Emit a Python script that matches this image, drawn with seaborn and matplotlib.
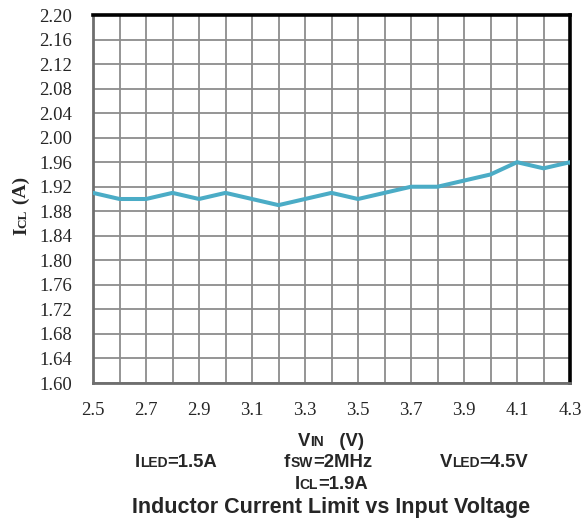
import matplotlib
matplotlib.use("Agg")
import matplotlib.pyplot as plt
import seaborn as sns
import pandas as pd

vin = [2.5, 2.6, 2.7, 2.8, 2.9, 3.0, 3.1, 3.2, 3.3, 3.4, 3.5, 3.6, 3.7, 3.8, 3.9, 4.0, 4.1, 4.2, 4.3, 4.4]
icl = [1.91, 1.90, 1.90, 1.91, 1.90, 1.91, 1.90, 1.89, 1.90, 1.91, 1.90, 1.91, 1.92, 1.92, 1.93, 1.94, 1.96, 1.95, 1.96, 1.90]
xticks = [2.5, 2.7, 2.9, 3.1, 3.3, 3.5, 3.7, 3.9, 4.1, 4.3]
yticks = [1.60, 1.64, 1.68, 1.72, 1.76, 1.80, 1.84, 1.88, 1.92, 1.96, 2.00, 2.04, 2.08, 2.12, 2.16, 2.20]

sns.set_style("white")
df = pd.DataFrame({"VIN": vin, "ICL": icl})

fig = plt.figure(figsize=(5.84, 5.23), dpi=100)
ax = fig.add_axes([93/584, 1-383/523, (570-93)/584, (383-15)/523])
sns.lineplot(data=df, x="VIN", y="ICL", ax=ax, color="#4BACC6", linewidth=2.9, zorder=3)
ax.set_xlim(2.5, 4.3)
ax.set_ylim(1.60, 2.20)
ax.set_xticks(xticks)
ax.set_yticks(yticks)
ax.set_xticklabels([f"{v:.1f}" for v in xticks], fontfamily="Liberation Serif", fontsize=13.5, fontweight="normal")
ax.set_yticklabels([f"{v:.2f}" for v in yticks], fontfamily="Liberation Serif", fontsize=13.5, fontweight="normal")
ax.set_xticks([2.6, 2.8, 3.0, 3.2, 3.4, 3.6, 3.8, 4.0, 4.2], minor=True)
ax.grid(True, which="both", color="#8C8C8C", linewidth=1.3)
ax.set_axisbelow(True)
ax.tick_params(axis="both", which="major", direction="out", length=4, width=1.2, color="#8C8C8C")
ax.tick_params(axis="y", which="major", pad=11)
ax.tick_params(axis="x", which="major", pad=10)
ax.tick_params(axis="x", which="minor", length=0)
ax.set_xlabel("")
ax.set_ylabel("")
for s in ["top", "right"]:
    ax.spines[s].set_color("black")
    ax.spines[s].set_linewidth(2.6)
for s in ["left", "bottom"]:
    ax.spines[s].set_color("#6E6E6E")
    ax.spines[s].set_linewidth(2.0)

fig.canvas.draw()
renderer = fig.canvas.get_renderer()
H = fig.bbox.height
W = fig.bbox.width

def pieces_text(pieces, xc, ypix, family):
    objs, widths = [], []
    for t, fs in pieces:
        o = fig.text(0, 0, t, fontsize=fs, fontweight="bold", family=family,
                     ha="left", va="baseline")
        objs.append(o)
        widths.append(o.get_window_extent(renderer).width)
    pos = xc - sum(widths) / 2
    for o, w in zip(objs, widths):
        o.set_position((pos / W, 1 - ypix / H))
        pos += w
    return objs

sans = ["Liberation Sans", "DejaVu Sans"]
B, S = 13.3, 10
pieces_text([("V", B), ("IN", S), ("   (V)", B)], 331, 446, sans)
pieces_text([("I", B), ("LED", S), ("=1.5A", B)], 176, 467, sans)
pieces_text([("f", B), ("SW", S), ("=2MHz", B)], 328, 467, sans)
pieces_text([("V", B), ("LED", S), ("=4.5V", B)], 484, 467, sans)
pieces_text([("I", B), ("CL", S), ("=1.9A", B)], 331, 489, sans)
fig.text(331/584, 1-513/523, "Inductor Current Limit vs Input Voltage", fontsize=15.5,
         fontweight="bold", family=sans, ha="center", va="baseline")

# rotated y label built from pieces (bottom to top)
serif = ["Liberation Serif", "DejaVu Serif"]
ylab = [("I", 14), ("CL", 9.5), (" (A)", 14)]
objs, hs = [], []
for t, fs in ylab:
    o = fig.text(0, 0, t, fontsize=fs, fontweight="bold", family=serif,
                 ha="left", va="baseline", rotation=90, rotation_mode="anchor")
    objs.append(o)
    hs.append(o.get_window_extent(renderer).height)
ycen = 206
pos = (H - ycen) - sum(hs) / 2
for o, h in zip(objs, hs):
    o.set_position((26 / W, pos / H))
    pos += h

fig.savefig("out.png", dpi=100)
